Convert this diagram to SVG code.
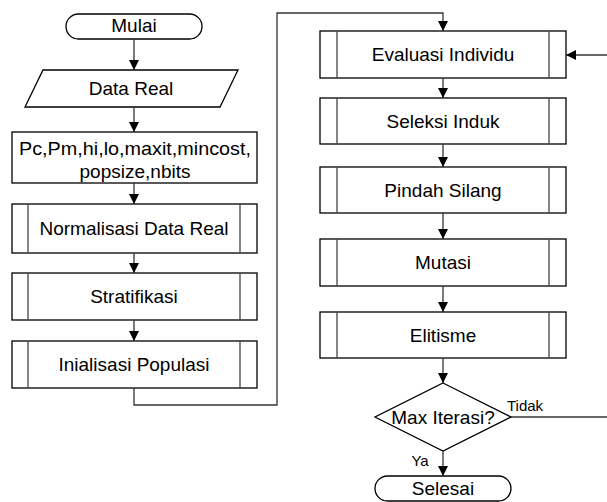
<svg xmlns="http://www.w3.org/2000/svg" width="607" height="502" viewBox="0 0 607 502">
<defs>
<marker id="ah" markerWidth="10" markerHeight="10" refX="10" refY="5" orient="auto" markerUnits="userSpaceOnUse">
<path d="M0,0 L10,5 L0,10 Z" fill="#000"/>
</marker>
<style>
.b{fill:#fff;stroke:#000;stroke-width:1.3}
.in{fill:none;stroke:#444;stroke-width:1.3}
.c{fill:none;stroke:#333;stroke-width:1.3}
.a{marker-end:url(#ah)}
text{font-family:"Liberation Sans",Arial,sans-serif;font-size:19px;fill:#000;text-anchor:middle}
.l{font-size:15px}
</style>
</defs>
<g id="mulai"><rect class="b" x="66" y="14" width="136" height="25" rx="12.5"/><text x="134" y="32">Mulai</text></g>
<g id="datareal"><path class="b" d="M43,70 L238,70 L220,107 L25,107 Z"/><text x="131" y="95">Data Real</text></g>
<g id="params"><rect class="b" x="12" y="132" width="245" height="51"/><text x="135" y="155" textLength="232" lengthAdjust="spacingAndGlyphs">Pc,Pm,hi,lo,maxit,mincost,</text><text x="135" y="178">popsize,nbits</text></g>
<g id="normalisasi"><rect class="b" x="12" y="204" width="245" height="49"/><line class="in" x1="28" y1="204" x2="28" y2="253"/><line class="in" x1="240" y1="204" x2="240" y2="253"/><text x="134" y="235">Normalisasi Data Real</text></g>
<g id="stratifikasi"><rect class="b" x="12" y="273" width="245" height="47"/><line class="in" x1="28" y1="273" x2="28" y2="320"/><line class="in" x1="240" y1="273" x2="240" y2="320"/><text x="134" y="303">Stratifikasi</text></g>
<g id="inialisasi"><rect class="b" x="12" y="341" width="245" height="47"/><line class="in" x1="28" y1="341" x2="28" y2="388"/><line class="in" x1="240" y1="341" x2="240" y2="388"/><text x="134" y="371">Inialisasi Populasi</text></g>
<g id="evaluasi"><rect class="b" x="320" y="31" width="246" height="47"/><line class="in" x1="337" y1="31" x2="337" y2="78"/><line class="in" x1="549" y1="31" x2="549" y2="78"/><text x="443" y="61">Evaluasi Individu</text></g>
<g id="seleksi"><rect class="b" x="320" y="98" width="246" height="46"/><line class="in" x1="337" y1="98" x2="337" y2="144"/><line class="in" x1="549" y1="98" x2="549" y2="144"/><text x="443" y="128">Seleksi Induk</text></g>
<g id="pindah"><rect class="b" x="320" y="167" width="246" height="46"/><line class="in" x1="337" y1="167" x2="337" y2="213"/><line class="in" x1="549" y1="167" x2="549" y2="213"/><text x="443" y="197">Pindah Silang</text></g>
<g id="mutasi"><rect class="b" x="320" y="239" width="246" height="47"/><line class="in" x1="337" y1="239" x2="337" y2="286"/><line class="in" x1="549" y1="239" x2="549" y2="286"/><text x="443" y="269">Mutasi</text></g>
<g id="elitisme"><rect class="b" x="320" y="312" width="246" height="46"/><line class="in" x1="337" y1="312" x2="337" y2="358"/><line class="in" x1="549" y1="312" x2="549" y2="358"/><text x="443" y="342">Elitisme</text></g>
<g id="maxiterasi"><path class="b" d="M443,383 L511,417 L443,451 L375,417 Z"/><text x="443" y="424">Max Iterasi?</text></g>
<g id="selesai"><rect class="b" x="375" y="476" width="136" height="25" rx="12.5"/><text x="443" y="495">Selesai</text></g>
<g id="connectors">
<line class="c a" x1="134" y1="39" x2="134" y2="70"/>
<line class="c a" x1="134" y1="107" x2="134" y2="132"/>
<line class="c a" x1="134" y1="183" x2="134" y2="204"/>
<line class="c a" x1="134" y1="253" x2="134" y2="273"/>
<line class="c a" x1="134" y1="320" x2="134" y2="341"/>
<path class="c a" d="M134,388 L134,405 L277,405 L277,13 L443,13 L443,31"/>
<line class="c a" x1="443" y1="78" x2="443" y2="98"/>
<line class="c a" x1="443" y1="144" x2="443" y2="167"/>
<line class="c a" x1="443" y1="213" x2="443" y2="239"/>
<line class="c a" x1="443" y1="286" x2="443" y2="312"/>
<line class="c a" x1="443" y1="358" x2="443" y2="383"/>
<line class="c a" x1="443" y1="451" x2="443" y2="476"/>
<line class="c" x1="511" y1="417" x2="607" y2="417"/>
<line class="c a" x1="607" y1="55" x2="566" y2="55"/>
<text class="l" x="525" y="411">Tidak</text>
<text class="l" x="420" y="466">Ya</text>
</g>
</svg>
